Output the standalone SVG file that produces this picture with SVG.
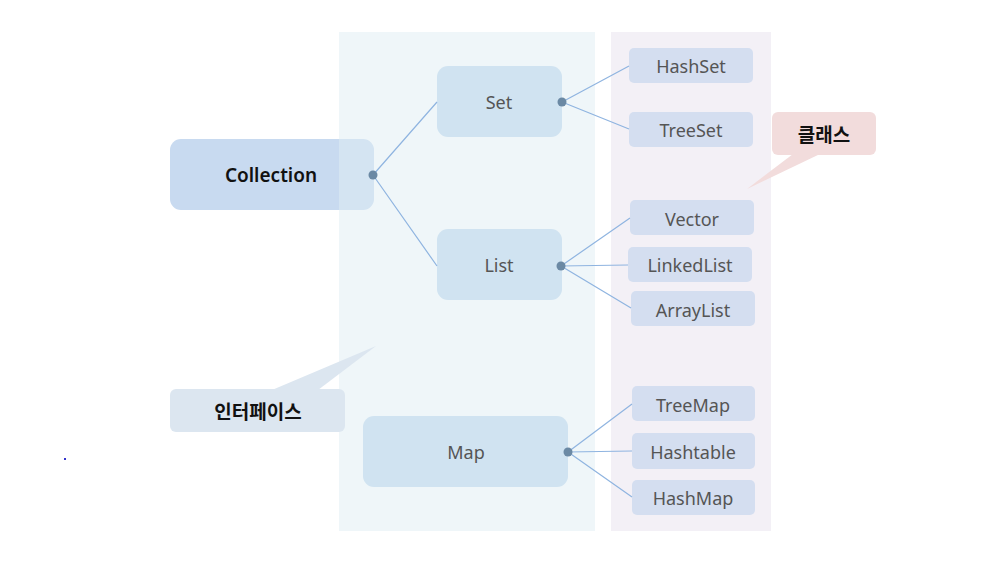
<svg xmlns="http://www.w3.org/2000/svg" width="983" height="584" viewBox="0 0 983 584">
<style>
.t{font-family:"Noto Sans","Noto Sans CJK KR",sans-serif;font-size:18px;fill:#555;text-anchor:middle;dominant-baseline:central}
.b{font-family:"Noto Sans CJK KR","Noto Sans",sans-serif;font-size:19px;font-weight:bold;fill:#111;text-anchor:middle;dominant-baseline:central}
.iface{fill:#d0e3f1}
.cls{fill:#d4def0}
.dot{fill:#6b89a4}
.ln{stroke:#8fb4e0;stroke-width:1.2;fill:none}
</style>
<rect width="983" height="584" fill="#fff"/>
<rect x="611" y="32" width="160" height="499" fill="#f3f0f6"/>
<g id="collection">
<rect x="170" y="139" width="204" height="71" rx="11" fill="#c8daf0"/>
<text class="t" x="271" y="175" style="fill:#111;font-weight:600;font-size:19px">Collection</text>
</g>
<rect x="339" y="32" width="256" height="499" fill="#e0eef4" opacity="0.5"/>
<g id="set"><rect class="iface" x="437" y="66" width="125" height="71" rx="11"/><text class="t" x="499" y="102">Set</text></g>
<g id="list"><rect class="iface" x="437" y="229" width="125" height="71" rx="11"/><text class="t" x="499" y="265">List</text></g>
<g id="map"><rect class="iface" x="363" y="416" width="205" height="71" rx="11"/><text class="t" x="466" y="452">Map</text></g>
<g id="hashset"><rect class="cls" x="629" y="48" width="124" height="35" rx="5"/><text class="t" x="691" y="66">HashSet</text></g>
<g id="treeset"><rect class="cls" x="629" y="112" width="124" height="35" rx="5"/><text class="t" x="691" y="130">TreeSet</text></g>
<g id="vector"><rect class="cls" x="630" y="200" width="124" height="35" rx="5"/><text class="t" x="692" y="219">Vector</text></g>
<g id="linkedlist"><rect class="cls" x="628" y="247" width="124" height="35" rx="5"/><text class="t" x="690" y="265">LinkedList</text></g>
<g id="arraylist"><rect class="cls" x="631" y="291" width="124" height="35" rx="5"/><text class="t" x="693" y="310">ArrayList</text></g>
<g id="treemap"><rect class="cls" x="632" y="386" width="123" height="35" rx="5"/><text class="t" x="693" y="405">TreeMap</text></g>
<g id="hashtable"><rect class="cls" x="632" y="433" width="123" height="36" rx="5"/><text class="t" x="693" y="452">Hashtable</text></g>
<g id="hashmap"><rect class="cls" x="632" y="480" width="123" height="35" rx="5"/><text class="t" x="693" y="498">HashMap</text></g>
<g id="connectors">
<path class="ln" d="M373 175L437 102M373 175L437 266M562 102L629 66M562 102L629 129M561 266L630 218M561 266L628 265M561 266L631 308M568 452L632 404M568 452L632 451M568 452L632 497"/>
<circle class="dot" cx="373" cy="175" r="4.5"/>
<circle class="dot" cx="562" cy="102" r="4.5"/>
<circle class="dot" cx="561" cy="266" r="4.5"/>
<circle class="dot" cx="568" cy="452" r="4.5"/>
</g>
<g id="class-callout">
<path d="M793 154L747 189L820 154Z" fill="#f2dcdc"/>
<rect x="772" y="112" width="104" height="43" rx="6" fill="#f2dcdc"/>
<text class="b" x="824" y="133">클래스</text>
</g>
<g id="interface-callout">
<path d="M272 390L376 346L318 390Z" fill="#dce6f0"/>
<rect x="170" y="389" width="175" height="43" rx="6" fill="#dce6f0"/>
<text class="b" x="258" y="410">인터페이스</text>
</g>
<rect x="64" y="458" width="2" height="2" fill="#3333cc"/>
</svg>
